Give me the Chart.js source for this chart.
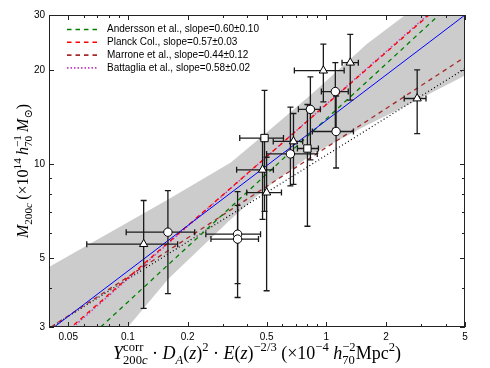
<!DOCTYPE html>
<html lang="en">
<head>
    <meta charset="UTF-8">
    <title>Mass vs Y scaling</title>
    <script src="https://cdn.jsdelivr.net/npm/chart.js"></script>
    <style>
        html, body {
            margin: 0;
            padding: 0;
            background: #fff;
            overflow: hidden;
        }
        .chart-container {
            width: 490px;
            height: 368px;
        }
    </style>
</head>
<body>
    <div class="chart-container">
        <canvas id="scalingChart"></canvas>
    </div>

    <script>
        // axis ticks
        const xTicks = [0.05, 0.1, 0.2, 0.5, 1, 2, 5];
        const xTickLabels = ['0.05', '0.1', '0.2', '0.5', '1', '2', '5'];
        const xMinor = [0.04, 0.06, 0.07, 0.08, 0.09, 0.3, 0.4, 0.6, 0.7, 0.8, 0.9, 3, 4];
        const yTicks = [3, 5, 10, 20, 30];
        const yTickLabels = ['3', '5', '10', '20', '30'];
        const yMinor = [4, 6, 7, 8, 9];

        // clusters drawn as triangles
        const triX = [0.120, 0.477, 0.500, 0.683, 0.966, 1.32, 2.87];
        const triY = [5.53, 9.57, 8.09, 11.8, 19.9, 21.1, 16.2];
        const triXLo = [0.062, 0.353, 0.397, 0.54, 0.69, 1.20, 2.47];
        const triXHi = [0.178, 0.541, 0.594, 0.76, 1.23, 1.45, 3.18];
        const triYLo = [3.44, 6.64, 3.92, 8.6, 15.8, 16.0, 12.5];
        const triYHi = [7.63, 12.0, 10.5, 14.5, 24.2, 26.0, 20.0];

        // clusters drawn as circles
        const cirX = [0.159, 0.357, 0.357, 0.659, 0.831, 1.11, 1.12];
        const cirY = [6.04, 5.95, 5.74, 10.76, 14.95, 17.05, 12.7];
        const cirXLo = [0.098, 0.247, 0.262, 0.50, 0.723, 0.944, 0.85];
        const cirXHi = [0.217, 0.466, 0.455, 0.90, 0.933, 1.29, 1.37];
        const cirYLo = [3.84, 4.13, 3.73, 8.5, 10.3, 13.0, 9.7];
        const cirYHi = [8.21, 8.15, 7.36, 15.2, 19.0, 21.1, 16.5];

        // clusters drawn as squares
        const sqX = [0.488, 0.803];
        const sqY = [12.1, 11.2];
        const sqXLo = [0.366, 0.715];
        const sqXHi = [0.608, 0.912];
        const sqYLo = [7.04, 6.31];
        const sqYHi = [17.2, 15.5];

        // confidence band of the fit
        const bandX = [0.04, 0.1, 0.16, 0.33, 0.5, 0.85, 1.6, 2.5, 5];
        const bandLo = [1.6, 3.0, 4.28, 6.65, 8.4, 10.75, 13.3, 15.3, 19.2];
        const bandHi = [4.67, 6.5, 7.7, 10.1, 12.6, 16.8, 24.2, 30, 42];

        // scaling relations (end points)
        const fitX = [0.0425, 5], fitY = [3.0, 30];
        const andX = [0.0729, 3.70], andY = [3.0, 30];
        const planckX = [0.0535, 3.29], planckY = [3.05, 30];
        const marroneX = [0.041, 5], marroneY = [3.0, 22.0];
        const battX = [0.053, 3.24], battY = [3.0, 30];
        const otherX = [0.041, 5], otherY = [3.0, 20.2];

        const legendLabels = [
            'Andersson et al., slope=0.60\u00b10.10',
            'Planck Col., slope=0.57\u00b10.03',
            'Marrone et al., slope=0.44\u00b10.12',
            'Battaglia et al., slope=0.58\u00b10.02'
        ];

        const pts = (xs, ys) => xs.map((x, i) => ({ x: x, y: ys[i] }));
        const errs = (xs, ys, xl, xh, yl, yh) => xs.map((x, i) => ({ x: x, y: ys[i], xl: xl[i], xh: xh[i], yl: yl[i], yh: yh[i] }));

        const lineSet = (label, xs, ys, color, dash, width) => ({
            type: 'line',
            label: label,
            data: pts(xs, ys),
            borderColor: color,
            borderWidth: width,
            borderDash: dash,
            pointRadius: 0,
            fill: false,
            order: 5
        });

        const markerSet = (label, data, style, radius, order) => ({
            label: label,
            data: data,
            pointStyle: style,
            pointRadius: radius,
            pointBackgroundColor: '#fff',
            pointBorderColor: '#000',
            pointBorderWidth: 1,
            order: order
        });

        const datasets = [
            {
                type: 'line', label: 'band hi', data: pts(bandX, bandHi),
                borderWidth: 0, pointRadius: 0, backgroundColor: '#cccccc',
                fill: '+1', order: 10
            },
            {
                type: 'line', label: 'band lo', data: pts(bandX, bandLo),
                borderWidth: 0, pointRadius: 0, fill: false, order: 10
            },
            lineSet('fit', fitX, fitY, '#0000ff', [], 1),
            lineSet(legendLabels[0], andX, andY, '#008000', [4.5, 4], 1.3),
            lineSet(legendLabels[1], planckX, planckY, '#ff0000', [4.5, 4], 1.3),
            lineSet(legendLabels[2], marroneX, marroneY, '#a52a2a', [4.5, 4], 1.3),
            lineSet(legendLabels[3], battX, battY, '#bf40bf', [1.5, 2], 1.4),
            lineSet('other', otherX, otherY, '#000000', [1, 2.5], 1.2),
            markerSet('squares', errs(sqX, sqY, sqXLo, sqXHi, sqYLo, sqYHi), 'rect', 5.2, 3),
            markerSet('circles', errs(cirX, cirY, cirXLo, cirXHi, cirYLo, cirYHi), 'circle', 4.2, 2),
            markerSet('triangles', errs(triX, triY, triXLo, triXHi, triYLo, triYHi), 'triangle', 4.8, 1)
        ];
        datasets[8].errStart = true;
        const legendSets = [3, 4, 5, 6];

        const serif = '"Liberation Serif", "DejaVu Serif", serif';

        function drawRun(ctx, r, size, x, y, onlyMeasure) {
            const s = r.p ? size * 0.7 : size;
            ctx.font = (r.i ? 'italic ' : '') + s + 'px ' + serif;
            const dy = r.p === 1 ? -size * 0.42 : r.p === -1 ? size * 0.26 : 0;
            if (!onlyMeasure) ctx.fillText(r.t, x, y + dy);
            return ctx.measureText(r.t).width;
        }

        function drawRich(ctx, items, size, x0, y0, onlyMeasure) {
            let x = x0;
            for (const it of items) {
                if (it.stack) {
                    let w = 0;
                    for (const runs of it.stack) {
                        let xx = x;
                        for (const r of runs) xx += drawRun(ctx, r, size, xx, y0, onlyMeasure);
                        w = Math.max(w, xx - x);
                    }
                    x += w;
                } else {
                    x += drawRun(ctx, it, size, x, y0, onlyMeasure);
                }
            }
            return x - x0;
        }

        const xTitle = [
            { t: 'Y', i: true },
            { stack: [[{ t: 'corr', p: 1 }], [{ t: '200', p: -1 }, { t: 'c', p: -1, i: true }]] },
            { t: ' \u00b7 ' }, { t: 'D', i: true }, { t: 'A', i: true, p: -1 },
            { t: '(' }, { t: 'z', i: true }, { t: ')' }, { t: '2', p: 1 },
            { t: ' \u00b7 ' }, { t: 'E', i: true },
            { t: '(' }, { t: 'z', i: true }, { t: ')' }, { t: '\u22122/3', p: 1 },
            { t: ' (\u00d710' }, { t: '\u22124', p: 1 }, { t: ' ' }, { t: 'h', i: true },
            { stack: [[{ t: '\u22122', p: 1 }], [{ t: '70', p: -1 }]] },
            { t: 'Mpc' }, { t: '2', p: 1 }, { t: ')' }
        ];
        const yTitle = [
            { t: 'M', i: true }, { t: '200', p: -1 }, { t: 'c', p: -1, i: true },
            { t: '\u2009(\u00d710' }, { t: '14', p: 1 }, { t: '\u2009' }, { t: 'h', i: true },
            { stack: [[{ t: '\u22121', p: 1 }], [{ t: '70', p: -1 }]] },
            { t: '\u2009' }, { t: 'M', i: true }, { t: '\u2299', p: -1 }, { t: ')' }
        ];

        const decorPlugin = {
            id: 'decor',
            beforeDatasetDraw(chart, args) {
                if (!chart.data.datasets[args.index].errStart) return;
                const ctx = chart.ctx;
                const xs = chart.scales.x, ys = chart.scales.y;
                const area = chart.chartArea;
                ctx.save();
                ctx.beginPath();
                ctx.rect(area.left, area.top, area.right - area.left, area.bottom - area.top);
                ctx.clip();
                ctx.strokeStyle = '#1a1a1a';
                ctx.lineWidth = 1.3;
                chart.data.datasets.forEach(ds => {
                    ds.data.forEach(d => {
                        if (d.xl === undefined) return;
                        const px = xs.getPixelForValue(d.x), py = ys.getPixelForValue(d.y);
                        const x1 = xs.getPixelForValue(d.xl), x2 = xs.getPixelForValue(d.xh);
                        const y1 = ys.getPixelForValue(d.yl), y2 = ys.getPixelForValue(d.yh);
                        ctx.beginPath();
                        ctx.moveTo(x1, py); ctx.lineTo(x2, py);
                        ctx.moveTo(x1, py - 3); ctx.lineTo(x1, py + 3);
                        ctx.moveTo(x2, py - 3); ctx.lineTo(x2, py + 3);
                        ctx.moveTo(px, y1); ctx.lineTo(px, y2);
                        ctx.moveTo(px - 3, y1); ctx.lineTo(px + 3, y1);
                        ctx.moveTo(px - 3, y2); ctx.lineTo(px + 3, y2);
                        ctx.stroke();
                    });
                });
                ctx.restore();
            },
            afterDraw(chart) {
                const ctx = chart.ctx;
                const xs = chart.scales.x, ys = chart.scales.y;
                const a = chart.chartArea;
                ctx.save();
                // frame
                ctx.strokeStyle = '#222';
                ctx.lineWidth = 1;
                ctx.strokeRect(a.left + 0.5, a.top + 0.5, a.right - a.left - 1, a.bottom - a.top - 1);
                // inward ticks on all sides
                ctx.beginPath();
                const xt = (v, len) => {
                    const p = Math.round(xs.getPixelForValue(v)) + 0.5;
                    ctx.moveTo(p, a.bottom); ctx.lineTo(p, a.bottom - len);
                    ctx.moveTo(p, a.top); ctx.lineTo(p, a.top + len);
                };
                const yt = (v, len) => {
                    const p = Math.round(ys.getPixelForValue(v)) + 0.5;
                    ctx.moveTo(a.left, p); ctx.lineTo(a.left + len, p);
                    ctx.moveTo(a.right, p); ctx.lineTo(a.right - len, p);
                };
                xTicks.forEach(v => xt(v, 5));
                xMinor.forEach(v => xt(v, 3));
                yTicks.forEach(v => yt(v, 5));
                yMinor.forEach(v => yt(v, 3));
                ctx.stroke();

                // legend
                ctx.font = '10px "Liberation Sans", Arial, sans-serif';
                ctx.textBaseline = 'middle';
                ctx.fillStyle = '#000';
                legendSets.forEach((idx, i) => {
                    const ds = chart.data.datasets[idx];
                    const y = 29.5 + i * 12.8;
                    ctx.save();
                    ctx.strokeStyle = ds.borderColor;
                    ctx.lineWidth = ds.borderWidth + 0.3;
                    ctx.setLineDash(ds.borderDash);
                    ctx.beginPath();
                    ctx.moveTo(67, y); ctx.lineTo(97, y);
                    ctx.stroke();
                    ctx.restore();
                    ctx.fillText(ds.label, 107, y);
                });

                // axis titles
                ctx.textBaseline = 'alphabetic';
                const wx = drawRich(ctx, xTitle, 18, 0, 0, true);
                drawRich(ctx, xTitle, 18, (a.left + a.right) / 2 - wx / 2, 359, false);
                const wy = drawRich(ctx, yTitle, 16, 0, 0, true);
                const k = Math.min(1, 150 / wy);
                ctx.translate(28, (a.top + a.bottom) / 2);
                ctx.rotate(-Math.PI / 2);
                ctx.scale(k, 1);
                drawRich(ctx, yTitle, 16, -wy / 2, 0, false);
                ctx.restore();
            }
        };

        const tickFont = { family: '"Liberation Sans", Arial, sans-serif', size: 10 };

        const ctx = document.getElementById('scalingChart').getContext('2d');
        const scalingChart = new Chart(ctx, {
            type: 'scatter',
            data: { datasets: datasets },
            options: {
                responsive: true,
                maintainAspectRatio: false,
                animation: false,
                layout: { padding: { top: 15, right: 25, left: 0, bottom: 0 } },
                plugins: {
                    legend: { display: false },
                    tooltip: { enabled: false }
                },
                scales: {
                    x: {
                        type: 'logarithmic',
                        min: 0.04,
                        max: 5,
                        afterBuildTicks: s => { s.ticks = xTicks.map(v => ({ value: v })); },
                        afterFit: s => { s.height = 41; },
                        ticks: {
                            autoSkip: false,
                            maxRotation: 0,
                            padding: 4,
                            color: '#000',
                            font: tickFont,
                            callback: (value, index) => xTickLabels[index]
                        },
                        grid: { display: false, drawTicks: false },
                        border: { display: false }
                    },
                    y: {
                        type: 'logarithmic',
                        min: 3,
                        max: 30,
                        afterBuildTicks: s => { s.ticks = yTicks.map(v => ({ value: v })); },
                        afterFit: s => { s.width = 49; },
                        ticks: {
                            autoSkip: false,
                            padding: 4,
                            color: '#000',
                            font: tickFont,
                            callback: (value, index) => yTickLabels[index]
                        },
                        grid: { display: false, drawTicks: false },
                        border: { display: false }
                    }
                }
            },
            plugins: [decorPlugin]
        });
    </script>
</body>
</html>
